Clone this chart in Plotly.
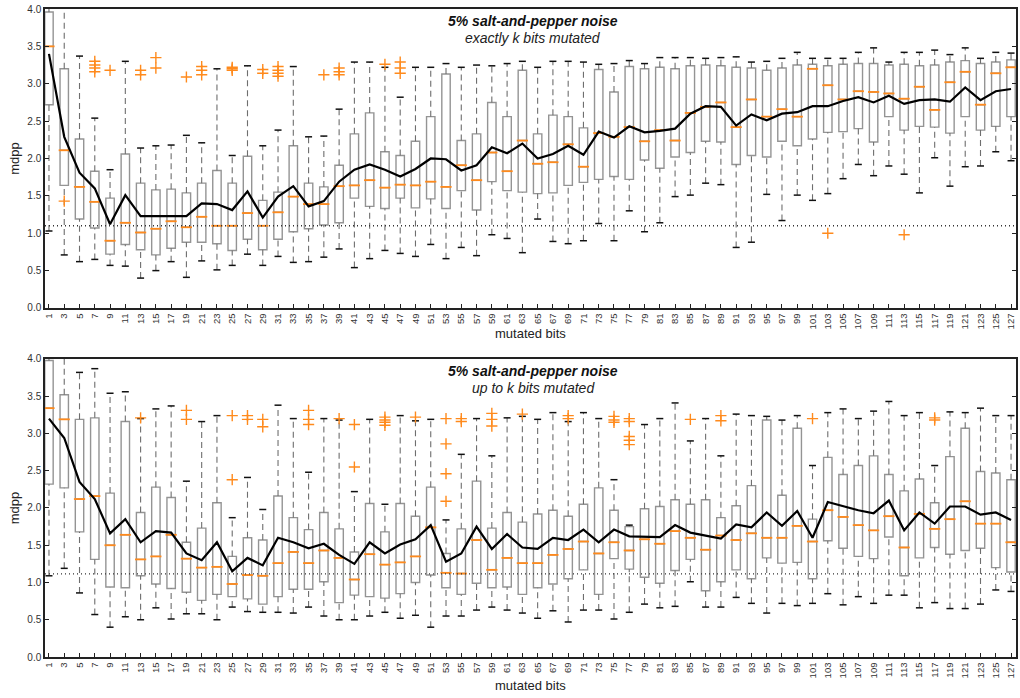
import plotly.graph_objects as go

# ---------------- data ----------------
BITS = list(range(1, 128, 2))
TICK_TEXT = [str(b) for b in BITS]
THRESH_TOP = [1.10]
THRESH_BOT = [1.115]

# panel A: exactly k bits mutated
A_lo = [1.03, 0.71, 0.62, 0.65, 0.57, 0.56, 0.40, 0.50, 0.62, 0.41, 0.63, 0.51, 0.57, 0.72, 0.57, 0.69,
        0.61, 0.62, 0.68, 0.79, 0.54, 0.66, 0.77, 0.73, 0.69, 0.85, 0.66, 0.81, 0.70, 0.98, 0.93, 0.74,
        1.19, 0.89, 0.86, 0.90, 1.13, 0.90, 1.30, 1.02, 1.14, 1.49, 1.51, 1.67, 1.65, 0.81, 0.88, 1.52,
        1.17, 1.51, 1.44, 1.53, 1.73, 1.92, 1.77, 1.90, 1.79, 1.54, 2.01, 1.63, 1.89, 1.90, 2.09, 1.97]
A_q1 = [2.72, 1.64, 1.19, 1.07, 0.72, 0.85, 0.78, 0.71, 0.80, 0.88, 0.88, 0.86, 0.77, 0.92, 0.78, 0.92,
        1.02, 1.06, 1.11, 1.14, 1.47, 1.36, 1.33, 1.47, 1.34, 1.46, 1.33, 1.57, 1.31, 1.69, 1.57, 1.55,
        1.53, 1.54, 1.64, 1.68, 1.72, 1.76, 1.72, 1.98, 1.87, 2.02, 2.08, 2.23, 2.22, 1.92, 2.04, 2.02,
        2.23, 2.17, 2.26, 2.35, 2.36, 2.40, 2.22, 2.56, 2.38, 2.43, 2.42, 2.34, 2.56, 2.38, 2.43, 2.56]
A_med = [3.50, 2.11, 1.62, 1.42, 0.90, 1.14, 1.01, 1.06, 1.16, 1.08, 1.22, 1.10, 1.10, 1.27, 1.10, 1.28,
         1.49, 1.39, 1.39, 1.63, 1.64, 1.71, 1.61, 1.65, 1.64, 1.69, 1.62, 1.91, 1.71, 2.08, 1.83, 2.24,
         1.93, 1.95, 2.19, 1.89, 2.34, 2.29, 2.42, 2.23, 2.38, 2.24, 2.61, 2.69, 2.75, 2.42, 2.79, 2.56,
         2.66, 2.56, 3.20, 2.98, 2.79, 2.90, 2.89, 2.87, 2.80, 2.96, 2.65, 3.02, 3.16, 2.72, 3.14, 3.22]
A_q3 = [3.96, 3.20, 2.26, 1.83, 1.47, 2.06, 1.67, 1.58, 1.59, 1.54, 1.67, 1.84, 1.67, 2.03, 1.44, 1.55,
        2.17, 1.67, 1.62, 1.91, 2.33, 2.61, 2.09, 2.04, 2.23, 2.56, 3.13, 2.24, 2.33, 2.75, 2.56, 3.18,
        2.33, 2.58, 2.56, 2.41, 3.19, 2.89, 3.23, 3.20, 3.22, 3.20, 3.24, 3.25, 3.24, 3.22, 3.21, 3.18,
        3.21, 3.25, 3.26, 3.24, 3.26, 3.27, 3.27, 3.25, 3.26, 3.24, 3.25, 3.29, 3.31, 3.27, 3.29, 3.32]
A_hi = [4.50, 4.50, 3.37, 2.54, 1.85, 3.30, 2.14, 2.17, 2.18, 2.31, 2.21, 3.20, 2.04, 3.24, 2.17, 2.38,
        3.23, 2.29, 2.30, 2.66, 3.29, 3.29, 3.22, 2.82, 3.22, 3.22, 3.27, 3.22, 3.25, 3.24, 3.27, 3.30,
        3.22, 3.30, 3.30, 3.29, 3.26, 3.27, 3.31, 3.27, 3.35, 3.35, 3.35, 3.34, 3.35, 3.36, 3.29, 3.30,
        3.34, 3.42, 3.34, 3.34, 3.34, 3.42, 3.48, 3.29, 3.42, 3.42, 3.45, 3.39, 3.48, 3.34, 3.42, 3.41]
A_mean = [3.40, 2.29, 1.81, 1.60, 1.12, 1.51, 1.23, 1.23, 1.23, 1.23, 1.40, 1.39, 1.31, 1.56, 1.21, 1.49,
          1.63, 1.36, 1.43, 1.69, 1.85, 1.92, 1.85, 1.76, 1.86, 2.00, 1.99, 1.84, 1.91, 2.15, 2.07, 2.20,
          2.00, 2.06, 2.17, 2.05, 2.36, 2.28, 2.43, 2.35, 2.37, 2.40, 2.60, 2.70, 2.69, 2.44, 2.59, 2.51,
          2.60, 2.62, 2.70, 2.70, 2.77, 2.82, 2.75, 2.84, 2.73, 2.78, 2.79, 2.76, 2.95, 2.78, 2.90, 2.93]
A_out_x = [3, 7, 7, 7, 7, 9, 13, 13, 15, 15, 19, 21, 21, 21, 25, 25, 25, 29, 29, 31, 31, 31, 31,
           37, 39, 39, 39, 45, 47, 47, 47, 103, 113]
A_out_y = [1.43, 3.30, 3.25, 3.21, 3.16, 3.18, 3.18, 3.12, 3.35, 3.21, 3.09, 3.23, 3.18, 3.12,
           3.22, 3.20, 3.18, 3.19, 3.14, 3.23, 3.18, 3.14, 3.10, 3.12, 3.21, 3.16, 3.12, 3.26,
           3.29, 3.21, 3.14, 1.00, 0.98]

# panel B: up to k bits mutated
B_lo = [1.09, 1.19, 0.86, 0.57, 0.40, 0.54, 0.50, 0.66, 0.51, 0.58, 0.58, 0.50, 0.67, 0.61, 0.60, 0.60,
        0.59, 0.67, 0.55, 0.50, 0.50, 0.55, 0.60, 0.52, 0.56, 0.40, 0.55, 0.55, 0.63, 0.67, 0.63, 0.59,
        0.52, 0.62, 0.47, 0.63, 0.63, 0.51, 0.60, 0.71, 0.66, 0.68, 1.01, 0.67, 0.67, 0.80, 0.72, 0.59,
        0.72, 0.69, 0.72, 0.85, 0.70, 0.81, 0.72, 0.83, 0.83, 0.66, 0.73, 0.65, 0.65, 0.71, 0.90, 0.88]
B_q1 = [2.32, 2.27, 1.68, 1.31, 0.94, 0.93, 1.09, 0.98, 0.92, 0.87, 0.76, 0.84, 0.81, 0.78, 0.71, 0.81,
        0.91, 0.91, 1.01, 0.73, 0.83, 0.81, 0.79, 0.85, 1.00, 1.10, 0.93, 0.84, 0.99, 0.93, 0.94, 0.84,
        0.93, 0.98, 1.05, 1.17, 0.84, 1.32, 1.18, 1.07, 0.99, 1.16, 1.31, 0.89, 1.01, 1.17, 1.05, 1.33,
        1.26, 1.27, 1.05, 1.56, 1.46, 1.35, 1.32, 1.61, 1.09, 1.33, 1.47, 1.38, 1.43, 1.46, 1.20, 1.14]
B_med = [3.34, 3.19, 2.12, 2.16, 1.50, 1.64, 1.31, 1.35, 1.64, 1.32, 1.20, 1.21, 0.98, 1.10, 1.09, 1.26,
         1.41, 1.26, 1.43, 1.33, 1.04, 1.38, 1.24, 1.27, 1.35, 1.74, 1.13, 1.12, 1.57, 1.17, 1.33, 1.26,
         1.26, 1.37, 1.45, 1.55, 1.39, 1.54, 1.43, 1.58, 1.52, 1.69, 1.60, 1.44, 1.63, 1.57, 1.66, 1.60,
         1.60, 1.76, 1.55, 1.97, 1.88, 1.77, 1.70, 1.89, 1.47, 1.92, 1.72, 1.85, 2.09, 1.79, 1.79, 1.54]
B_q3 = [3.98, 3.52, 3.19, 3.21, 2.20, 3.16, 1.94, 2.28, 2.14, 1.54, 1.73, 2.07, 1.35, 1.60, 1.57, 2.16,
        1.87, 1.71, 1.94, 1.72, 1.41, 2.06, 1.68, 2.06, 1.89, 2.28, 1.39, 1.72, 2.36, 1.73, 1.94, 1.81,
        1.92, 1.97, 1.89, 2.05, 2.27, 1.97, 1.75, 1.99, 2.02, 2.11, 2.05, 2.11, 1.87, 2.03, 2.30, 3.18,
        2.17, 3.07, 1.85, 2.68, 2.45, 2.57, 2.70, 2.45, 2.23, 2.39, 2.07, 2.69, 3.07, 2.49, 2.47, 2.38]
B_hi = [4.50, 4.50, 3.82, 3.87, 3.54, 3.56, 3.20, 3.33, 3.37, 2.36, 3.16, 3.24, 1.87, 2.41, 1.98, 3.38,
        3.20, 2.48, 3.20, 3.18, 2.22, 3.19, 2.05, 3.24, 3.17, 3.19, 1.84, 2.72, 3.20, 2.70, 3.21, 3.23,
        3.19, 3.28, 3.16, 3.28, 3.20, 2.38, 1.77, 3.12, 3.20, 3.41, 2.90, 3.20, 2.70, 3.26, 3.24, 3.23,
        3.18, 3.24, 2.57, 3.28, 3.33, 3.20, 3.30, 3.43, 3.24, 3.28, 2.57, 3.29, 3.28, 3.34, 3.24, 3.24]
B_mean = [3.20, 2.94, 2.35, 2.12, 1.66, 1.85, 1.54, 1.69, 1.67, 1.39, 1.30, 1.54, 1.15, 1.33, 1.23, 1.60,
          1.54, 1.46, 1.52, 1.37, 1.25, 1.54, 1.39, 1.51, 1.58, 1.77, 1.28, 1.39, 1.75, 1.45, 1.65, 1.47,
          1.45, 1.60, 1.57, 1.71, 1.54, 1.71, 1.62, 1.62, 1.61, 1.77, 1.67, 1.63, 1.59, 1.78, 1.74, 1.94,
          1.76, 1.96, 1.60, 2.08, 2.02, 1.97, 1.93, 2.10, 1.70, 1.94, 1.79, 2.02, 2.02, 1.91, 1.94, 1.84]
B_out_x = [13, 19, 19, 25, 25, 27, 27, 29, 29, 35, 35, 35, 39, 41, 41, 45, 45, 45, 45, 49,
           53, 53, 53, 53, 55, 55, 59, 59, 59, 63, 69, 69, 75, 75, 75, 77, 77, 77, 77, 77,
           85, 89, 89, 101, 117, 117]
B_out_y = [3.21, 3.31, 3.19, 3.24, 2.38, 3.24, 3.19, 3.19, 3.09, 3.31, 3.19, 3.12, 3.20, 3.12, 2.55,
           3.22, 3.18, 3.15, 3.11, 3.22, 3.20, 2.86, 2.46, 2.09, 3.20, 3.16, 3.27, 3.19, 3.10, 3.26,
           3.24, 3.20, 3.23, 3.18, 3.15, 3.20, 3.16, 2.96, 2.91, 2.85, 3.19, 3.24, 3.17, 3.20, 3.21, 3.18]

PANELS = [
    ("exactly k bits mutated", A_lo, A_q1, A_med, A_q3, A_hi, A_mean, A_out_x, A_out_y, THRESH_TOP),
    ("up to k bits mutated", B_lo, B_q1, B_med, B_q3, B_hi, B_mean, B_out_x, B_out_y, THRESH_BOT),
]

# ---------------- styling ----------------
FONT = "Liberation Sans, Arial, sans-serif"
BOX_GRAY = "#949494"
WHISK_GRAY = "#6e6e6e"
ORANGE = "#ff8a1c"
AXIS_COL = "#222222"
BOX_W = 1.1

fig = go.Figure()
domains = [[0.5386, 1.0], [0.0, 0.4599]]
xtitle_y = [0.5, -0.0435]

for i, (subtitle, lo, q1, med, q3, hi, mean, ox, oy, thr) in enumerate(PANELS):
    xa = "x" if i == 0 else "x2"
    ya = "y" if i == 0 else "y2"

    # dashed whiskers
    wx, wy = [], []
    for b, l, a, c, h in zip(BITS, lo, q1, q3, hi):
        wx += [b, b, None, b, b, None]
        wy += [l, a, None, c, h, None]
    fig.add_trace(go.Scatter(x=wx, y=wy, mode="lines", xaxis=xa, yaxis=ya,
                             line=dict(color=WHISK_GRAY, width=1.1, dash="6px,4px"),
                             hoverinfo="skip", showlegend=False))
    # boxes
    fig.add_trace(go.Box(x=BITS, q1=q1, median=med, q3=q3, lowerfence=q1, upperfence=q3,
                         width=BOX_W, xaxis=xa, yaxis=ya, boxpoints=False,
                         line=dict(color=BOX_GRAY, width=1.4),
                         fillcolor="rgba(255,255,255,0)", showlegend=False))
    # whisker caps
    fig.add_trace(go.Scatter(x=BITS + BITS, y=lo + hi, mode="markers", xaxis=xa, yaxis=ya,
                             marker=dict(symbol="line-ew", size=5,
                                         line=dict(color="#111111", width=1.5)),
                             hoverinfo="skip", showlegend=False))
    # medians
    fig.add_trace(go.Scatter(x=BITS, y=med, mode="markers", xaxis=xa, yaxis=ya,
                             marker=dict(symbol="line-ew", size=8,
                                         line=dict(color=ORANGE, width=1.8)),
                             showlegend=False))
    # outliers
    fig.add_trace(go.Scatter(x=ox, y=oy, mode="markers", xaxis=xa, yaxis=ya,
                             marker=dict(symbol="cross-thin", size=8,
                                         line=dict(color=ORANGE, width=1.4)),
                             showlegend=False))
    # mean line
    fig.add_trace(go.Scatter(x=BITS, y=mean, mode="lines", xaxis=xa, yaxis=ya,
                             line=dict(color="black", width=2.2), showlegend=False))
    # dotted reference line
    fig.add_shape(type="line", xref=f"{xa} domain", yref=ya, x0=0, x1=1, y0=thr[0], y1=thr[0],
                  line=dict(color="#333333", width=1.3, dash="1px,3px"))

    # titles
    fig.add_annotation(xref=f"{xa} domain", yref=f"{ya} domain", x=0.503, y=0.96,
                       yanchor="middle",
                       text="<b><i>5% salt-and-pepper noise</i></b>", showarrow=False,
                       font=dict(family=FONT, size=14, color="#111111"))
    fig.add_annotation(xref=f"{xa} domain", yref=f"{ya} domain", x=0.503, y=0.903,
                       yanchor="middle",
                       text="<i>" + subtitle + "</i>", showarrow=False,
                       font=dict(family=FONT, size=14, color="#222222"))
    # x axis title
    fig.add_annotation(xref="x domain", yref="paper", x=0.5, y=xtitle_y[i],
                       text="mutated bits", showarrow=False, yanchor="middle",
                       font=dict(family=FONT, size=13, color="#222222"))

    xkey = "xaxis" if i == 0 else "xaxis2"
    ykey = "yaxis" if i == 0 else "yaxis2"
    fig.update_layout(**{
        xkey: dict(domain=[0, 1], anchor=ya, range=[0.48, 127.65],
                   tickmode="array", tickvals=BITS, ticktext=TICK_TEXT, tickangle=-90,
                   ticks="inside", ticklen=4, tickcolor=AXIS_COL,
                   ticklabeloverflow="allow",
                   showline=True, linecolor=AXIS_COL, linewidth=1.5, mirror=True,
                   showgrid=False, zeroline=False,
                   tickfont=dict(family=FONT, size=9.5, color="#333333")),
        ykey: dict(domain=domains[i], anchor=xa, range=[0, 4],
                   tickmode="array", tickvals=[0, 0.5, 1, 1.5, 2, 2.5, 3, 3.5, 4],
                   tickformat=".1f",
                   ticks="inside", ticklen=4, tickcolor=AXIS_COL,
                   showline=True, linecolor=AXIS_COL, linewidth=1.5, mirror="ticks",
                   showgrid=False, zeroline=False,
                   tickfont=dict(family=FONT, size=10, color="#333333"),
                   title=dict(text="mdpp", standoff=5,
                              font=dict(family=FONT, size=13, color="#222222"))),
    })

fig.update_layout(width=1020, height=698, margin=dict(l=45, r=2, t=9, b=41),
                  plot_bgcolor="white", paper_bgcolor="white", showlegend=False)

# remove the browser's default 8px page margin so the figure fills the window exactly
fig.write_html("out.html", config={"displayModeBar": False},
               post_script="document.body.style.margin='0px';document.body.style.overflow='hidden';")
